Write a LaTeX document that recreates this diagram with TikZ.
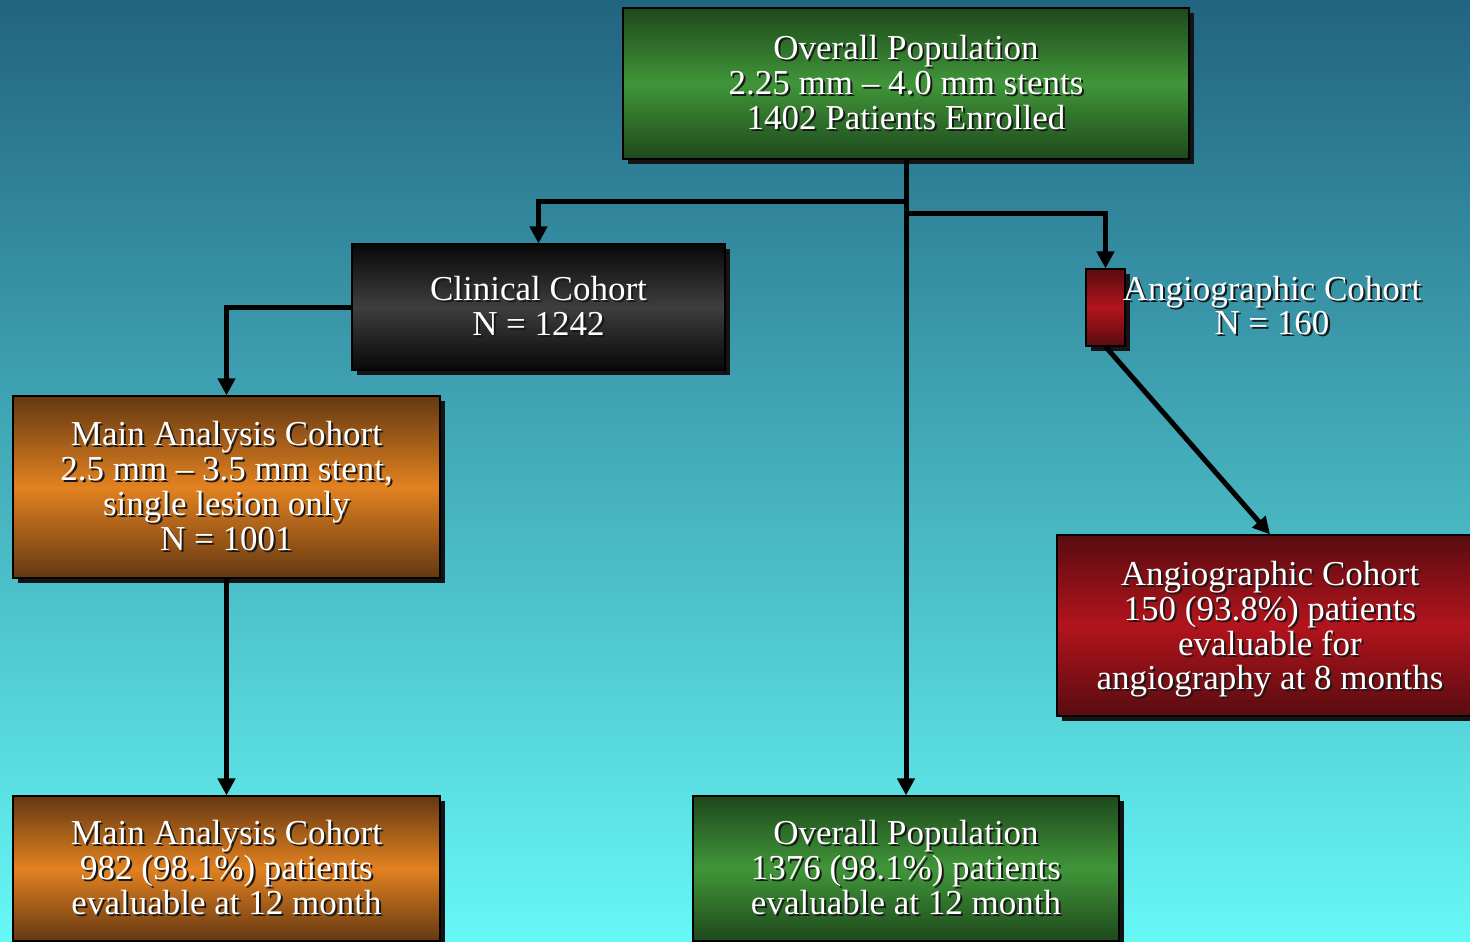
\documentclass[tikz,border=0pt]{standalone}
\usepackage{fontspec}
\setmainfont{Liberation Serif}
\usetikzlibrary{arrows.meta,shadows}

\definecolor{bgtop}{RGB}{34,100,128}
\definecolor{bgbot}{RGB}{102,248,246}
\definecolor{gdark}{RGB}{30,72,28}
\definecolor{glight}{RGB}{64,150,57}
\definecolor{kdark}{RGB}{8,8,8}
\definecolor{klight}{RGB}{62,62,62}
\definecolor{odark}{RGB}{100,56,18}
\definecolor{olight}{RGB}{226,130,32}
\definecolor{rdark}{RGB}{88,12,16}
\definecolor{rlight}{RGB}{178,20,28}
\definecolor{shadowc}{RGB}{20,20,20}
\definecolor{txtshadow}{RGB}{25,25,25}

% white text with a small dark offset shadow
\newcommand\tsh[1]{\rlap{\kern1pt\raisebox{-1pt}{\color{txtshadow}#1}}#1}

\begin{document}
\begin{tikzpicture}[x=0.5pt,y=-0.5pt,
  txt/.style={text=white, align=center, inner sep=0pt,
    font=\fontsize{17.5}{17.4}\selectfont},
  box/.style={txt, draw=black, line width=0.6pt,
    drop shadow={shadow xshift=2.5pt,shadow yshift=-2.5pt,fill=shadowc,opacity=1}},
  greenbox/.style={box, top color=gdark, bottom color=gdark, middle color=glight},
  blackbox/.style={box, top color=kdark, bottom color=kdark, middle color=klight},
  orangebox/.style={box, top color=odark, bottom color=odark, middle color=olight},
  redbox/.style={box, top color=rdark, bottom color=rdark, middle color=rlight},
  conn/.style={line width=2.5pt, -{Triangle[width=8.5pt,length=8.5pt]}}
]
\useasboundingbox (0,0) rectangle (1470,941);
\clip (0,0) rectangle (1470,941);
\shade[top color=bgtop, bottom color=bgbot] (0,0) rectangle (1470,941);

% boxes
\node[greenbox, minimum width=283pt, minimum height=75.5pt] (top) at (906,83.5)
  {\tsh{Overall Population}\\\tsh{2.25 mm – 4.0 mm stents}\\\tsh{1402 Patients Enrolled}};
\node[blackbox, minimum width=186.5pt, minimum height=63pt] (clin) at (538.5,307)
  {\tsh{Clinical Cohort}\\\tsh{N = 1242}};
\node[redbox, minimum width=19.5pt, minimum height=38.5pt] (angs) at (1105.5,307.5) {};
\node[txt] (angslbl) at (1272,306.5)
  {\tsh{Angiographic Cohort}\\\tsh{N = 160}};
\node[orangebox, minimum width=213.5pt, minimum height=91pt] (main) at (226.5,487)
  {\tsh{Main Analysis Cohort}\\\tsh{2.5 mm – 3.5 mm stent,}\\\tsh{single lesion only}\\\tsh{N = 1001}};
\node[orangebox, minimum width=213.5pt, minimum height=72.5pt] (mainb) at (226.5,868.5)
  {\tsh{Main Analysis Cohort}\\\tsh{982 (98.1\%) patients}\\\tsh{evaluable at 12 month}};
\node[greenbox, minimum width=213pt, minimum height=72.5pt] (overb) at (906,868.5)
  {\tsh{Overall Population}\\\tsh{1376 (98.1\%) patients}\\\tsh{evaluable at 12 month}};
\node[redbox, minimum width=213pt, minimum height=90.5pt] (angb) at (1270,625.5)
  {\tsh{\rule{0pt}{17pt}Angiographic Cohort}\\\tsh{150 (93.8\%) patients}\\\tsh{evaluable for}\\\tsh{angiography at 8 months}};

% branch points below the top box
\coordinate (j1) at (906,202);
\coordinate (j2) at (906,214);

% connectors
\draw[conn] (top.south) -- (overb.north);
\draw[conn] (j1) -| (clin.north);
\draw[conn] (j2) -| (angs.north);
\draw[conn] (clin.west) -| (main.north);
\draw[conn] (main.south) -- (mainb.north);
\draw[conn] (angs.south) -- (angb.north);
\end{tikzpicture}
\end{document}
